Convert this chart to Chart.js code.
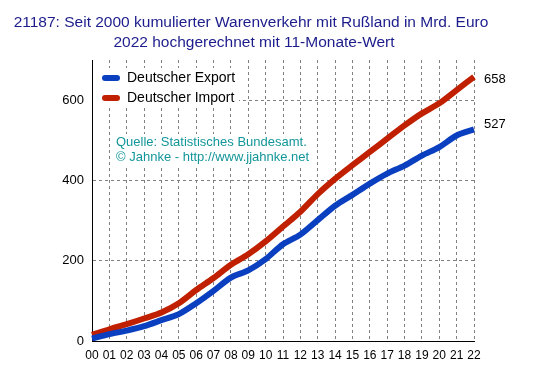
<!DOCTYPE html>
<html>
<head>
<meta charset="utf-8">
<script src="https://cdn.jsdelivr.net/npm/chart.js@4"></script>
<style>
  html, body { margin: 0; padding: 0; background: #fff; }
  #wrap { width: 553px; height: 376px; }
</style>
</head>
<body>
<div id="wrap"><canvas id="ruChart" width="553" height="376"></canvas></div>
<script>
// Jahre (x-Achse)
const years = [
    "00", "01", "02", "03", "04", "05", "06", "07", "08", "09", "10", "11",
    "12", "13", "14", "15", "16", "17", "18", "19", "20", "21", "22"
];

// kumulierte Werte in Mrd. Euro
const exportValues = [
    6, 17, 26, 37, 52, 67, 94, 125, 158, 176, 204, 241,
    265, 301, 337, 364, 392, 417, 437, 462, 483, 512, 527
];
const importValues = [
    15, 29, 42, 56, 71, 94, 127, 157, 190, 216, 248, 285,
    322, 366, 404, 438, 471, 504, 537, 567, 592, 625, 658
];

const yTicks = [0, 200, 400, 600];

const titleLines = [
    "21187: Seit 2000 kumulierter Warenverkehr mit Rußland in Mrd. Euro",
    "2022 hochgerechnet mit 11-Monate-Wert"
];
const seriesNames = ["Deutscher Export", "Deutscher Import"];
const sourceLines = ["Quelle: Statistisches Bundesamt.", "\u00a9 Jahnke - http://www.jjahnke.net"];

const blue = '#0a3fc0';
const red = '#c02000';
const font = "'Liberation Sans', Arial, sans-serif";

// Titel, Legende, Quelle und Endwerte selbst zeichnen
const decorations = {
    id: 'decorations',
    beforeDatasetsDraw(chart) {
        // weisse Flaechen hinter Legende und Quelle (verdecken das Gitter)
        const c = chart.ctx;
        c.save();
        c.fillStyle = '#fff';
        c.fillRect(93, 68, 146, 39);
        c.fillRect(114, 134, 199, 31);
        c.restore();
    },
    afterDraw(chart) {
        const c = chart.ctx;
        c.save();
        c.textAlign = 'center';
        c.textBaseline = 'alphabetic';
        c.fillStyle = '#1c1c8c';
        c.font = '15.5px ' + font;
        c.fillText(titleLines[0], 251, 27);
        c.fillText(titleLines[1], 254, 47);

        // Legende
        const colors = [blue, red];
        c.textAlign = 'left';
        c.textBaseline = 'middle';
        c.font = '14px ' + font;
        seriesNames.forEach((name, i) => {
            const y = 78 + i * 20;
            c.strokeStyle = colors[i];
            c.lineWidth = 6;
            c.lineCap = 'round';
            c.beginPath();
            c.moveTo(105, y);
            c.lineTo(117, y);
            c.stroke();
            c.fillStyle = '#000';
            c.fillText(name, 127, y);
        });

        // Quelle
        c.fillStyle = '#13969a';
        c.font = '13px ' + font;
        c.fillText(sourceLines[0], 116, 142);
        c.fillText(sourceLines[1], 116, 157);

        // Endwerte
        c.fillStyle = '#000';
        c.font = '13px ' + font;
        const offs = [-5, 3];
        chart.data.datasets.forEach((ds, i) => {
            const pts = chart.getDatasetMeta(i).data;
            const p = pts[pts.length - 1];
            c.fillText(String(ds.data[ds.data.length - 1]), p.x + 10, p.y + offs[i]);
        });
        c.restore();
    }
};

const ctx = document.getElementById('ruChart').getContext('2d');

new Chart(ctx, {
    type: 'line',
    data: {
        labels: years,
        datasets: [{
            label: seriesNames[0],
            data: exportValues,
            borderColor: blue,
            borderWidth: 6,
            pointRadius: 0,
            tension: 0.3,
            fill: false
        }, {
            label: seriesNames[1],
            data: importValues,
            borderColor: red,
            borderWidth: 6,
            pointRadius: 0,
            tension: 0.3,
            fill: false
        }]
    },
    options: {
        responsive: false,
        animation: false,
        layout: {
            padding: { left: 0, right: 79, top: 60, bottom: 0 }
        },
        plugins: {
            legend: { display: false },
            title: { display: false },
            tooltip: { enabled: false }
        },
        scales: {
            x: {
                offset: false,
                afterFit(scale) { scale.height = 35; },
                border: { display: true, color: '#000', width: 1, dash: [3, 3] },
                grid: {
                    drawTicks: false,
                    color: (c) => c.index === 0 ? 'rgba(0,0,0,0)' : '#808080',
                    lineWidth: 1
                },
                ticks: {
                    autoSkip: false,
                    maxRotation: 0,
                    padding: 7,
                    color: '#000',
                    font: { family: font, size: 12 }
                }
            },
            y: {
                min: 0,
                max: 700,
                afterFit(scale) { scale.width = 92; },
                afterBuildTicks(scale) {
                    scale.ticks = yTicks.map(v => ({ value: v }));
                },
                border: { display: true, color: '#000', width: 1, dash: [3, 3] },
                grid: {
                    drawTicks: false,
                    color: (c) => c.tick && c.tick.value === 0 ? 'rgba(0,0,0,0)' : '#808080',
                    lineWidth: 1
                },
                ticks: {
                    padding: 8,
                    color: '#000',
                    font: { family: font, size: 13 }
                }
            }
        }
    },
    plugins: [decorations]
});
</script>
</body>
</html>
